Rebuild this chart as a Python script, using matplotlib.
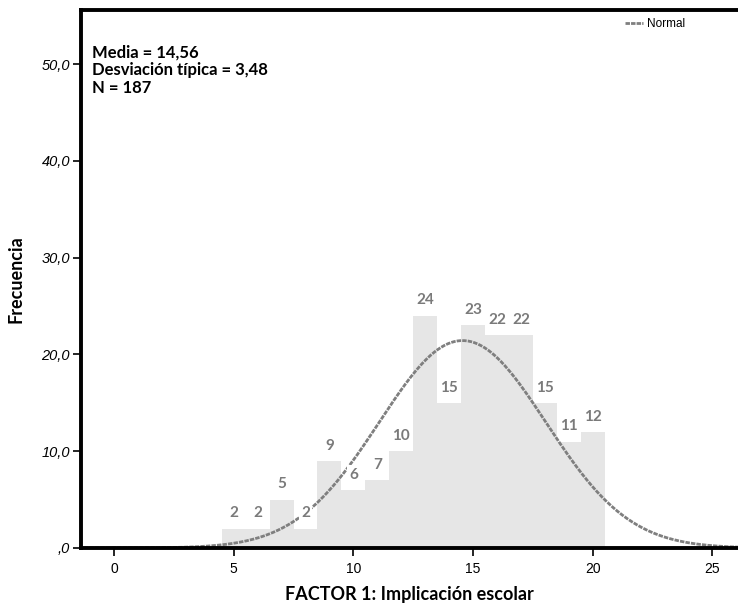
import numpy as np
import matplotlib
matplotlib.use("Agg")
import matplotlib.pyplot as plt

# datos del histograma
valores = [5, 6, 7, 8, 9, 10, 11, 12, 13, 14, 15, 16, 17, 18, 19, 20]
frecuencias = [2, 2, 5, 2, 9, 6, 7, 10, 24, 15, 23, 22, 22, 15, 11, 12]
media = 14.56
desv = 3.48
n = 187

yticks = [0, 10, 20, 30, 40, 50]
ytick_labels = [",0", "10,0", "20,0", "30,0", "40,0", "50,0"]
xticks = [0, 5, 10, 15, 20, 25]

fuente = ["Lato", "DejaVu Sans"]

fig = plt.figure(figsize=(7.38, 6.07), dpi=100)
ax = fig.add_axes([0.1098, 0.0972, 0.8902, 0.8863])

ax.bar(valores, frecuencias, width=1.0, color="#e6e6e6", edgecolor="none", zorder=1)

# curva normal ajustada
xs = np.linspace(-1.5, 26.5, 400)
ys = n * np.exp(-0.5 * ((xs - media) / desv) ** 2) / (desv * np.sqrt(2 * np.pi))
linea, = ax.plot(xs, ys, color="#7f7f7f", lw=2, ls=(0, (1.6, 0.4)), zorder=2, label="Normal")

for v, f in zip(valores, frecuencias):
    ax.annotate(str(f), (v, f), xytext=(0, 6), textcoords="offset points",
                ha="center", va="bottom", fontsize=11, fontweight="bold",
                color="#7a7a7a", family=fuente, zorder=3,
                bbox=dict(boxstyle="square,pad=0.15", fc="white", ec="none"))

ax.set_xlim(-1.38, 26.07)
ax.set_ylim(0, 55.6)

ax.set_xticks(xticks)
ax.set_xticklabels([str(t) for t in xticks], family="Liberation Sans", fontsize=10)
ax.set_yticks(yticks)
ax.set_yticklabels(ytick_labels, family="Liberation Sans", fontsize=10.5, style="italic")
ax.tick_params(direction="out", length=6, width=1.2, color="black", pad=2)
ax.tick_params(axis="x", pad=4)

for s in ["left", "top", "bottom"]:
    ax.spines[s].set_linewidth(2.8)
ax.spines["right"].set_visible(False)

ax.set_xlabel("FACTOR 1: Implicación escolar", fontsize=13, fontweight="bold",
              family=fuente, labelpad=7)
ax.set_ylabel("Frecuencia", fontsize=13, fontweight="bold", family=fuente, labelpad=12)

ax.text(0.017, 0.935, "Media = 14,56\nDesviación típica = 3,48\nN = 187",
        transform=ax.transAxes, ha="left", va="top", fontsize=12,
        fontweight="bold", family=fuente, linespacing=1.1)

ax.legend(handles=[linea], loc="upper right", bbox_to_anchor=(0.935, 1.005),
          frameon=False, prop={"family": "Liberation Sans", "size": 8.5},
          handlelength=1.5, handletextpad=0.3)

fig.savefig("out.png", dpi=100)
